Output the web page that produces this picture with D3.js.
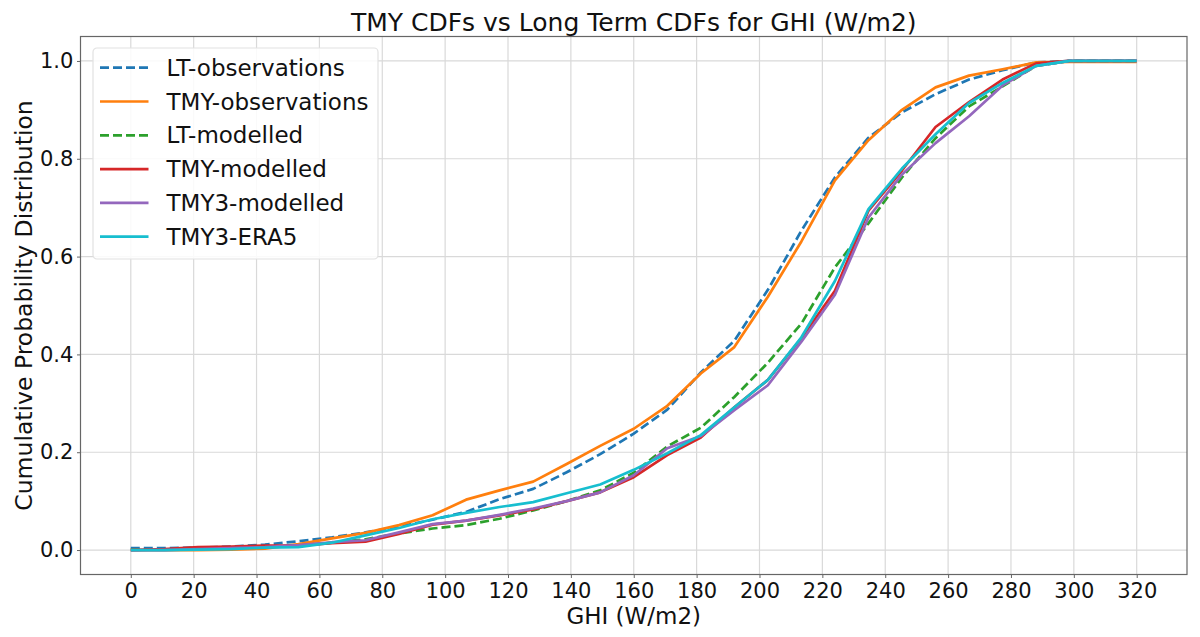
<!DOCTYPE html>
<html>
<head>
<meta charset="utf-8">
<script src="https://cdn.jsdelivr.net/npm/d3@7"></script>
<style>
    body { margin: 0; background: #fff; }
    text { font-family: "DejaVu Sans", sans-serif; fill: #111; }
</style>
</head>
<body>
<svg id="chart" width="1200" height="637"></svg>
<script>
// bin values along GHI (W/m2)
const ghi = [0, 10.67, 21.33, 32, 42.67, 53.33, 64, 74.67, 85.33, 96, 106.67,
    117.33, 128, 138.67, 149.33, 160, 170.67, 181.33, 192, 202.67, 213.33,
    224, 234.67, 245.33, 256, 266.67, 277.33, 288, 298.67, 309.33, 320]

const xTicks = [0, 20, 40, 60, 80, 100, 120, 140, 160, 180, 200, 220, 240, 260, 280, 300, 320]
const yTicks = [0, 0.2, 0.4, 0.6, 0.8, 1.0]

const ltObservations = [0.004, 0.004, 0.005, 0.007, 0.011, 0.018, 0.026, 0.036, 0.048, 0.062, 0.078,
    0.104, 0.125, 0.159, 0.196, 0.238, 0.287, 0.363, 0.428, 0.532, 0.653,
    0.762, 0.843, 0.895, 0.932, 0.962, 0.981, 0.997, 1.0, 1.0, 1.0]
const tmyObservations = [0, 0, 0, 0.001, 0.003, 0.012, 0.024, 0.035, 0.051, 0.071, 0.103,
    0.122, 0.14, 0.176, 0.213, 0.248, 0.295, 0.361, 0.415, 0.518, 0.631,
    0.756, 0.838, 0.9, 0.946, 0.97, 0.983, 0.997, 0.998, 0.998, 0.998]
const ltModelled = [0.001, 0.001, 0.002, 0.004, 0.006, 0.009, 0.015, 0.022, 0.034, 0.044, 0.051,
    0.064, 0.081, 0.1, 0.122, 0.158, 0.212, 0.25, 0.313, 0.383, 0.463,
    0.578, 0.668, 0.762, 0.842, 0.907, 0.948, 0.99, 1.0, 1.0, 1.0]
const tmyModelled = [0, 0.002, 0.006, 0.007, 0.009, 0.009, 0.014, 0.017, 0.033, 0.052, 0.06,
    0.071, 0.083, 0.1, 0.118, 0.149, 0.194, 0.23, 0.292, 0.348, 0.433,
    0.53, 0.694, 0.776, 0.865, 0.916, 0.962, 0.995, 1.0, 1.0, 1.0]
const tmy3Modelled = [0, 0, 0.002, 0.004, 0.006, 0.01, 0.016, 0.02, 0.036, 0.053, 0.06,
    0.072, 0.085, 0.1, 0.118, 0.153, 0.208, 0.233, 0.286, 0.337, 0.426,
    0.522, 0.68, 0.768, 0.832, 0.887, 0.95, 0.99, 1.0, 1.0, 1.0]
const tmy3Era5 = [0, 0, 0.001, 0.002, 0.005, 0.006, 0.015, 0.03, 0.045, 0.063, 0.076,
    0.088, 0.098, 0.116, 0.134, 0.164, 0.198, 0.235, 0.292, 0.348, 0.435,
    0.55, 0.697, 0.78, 0.85, 0.914, 0.955, 0.99, 1.0, 1.0, 1.0]

const seriesNames = ['LT-observations', 'TMY-observations', 'LT-modelled', 'TMY-modelled', 'TMY3-modelled', 'TMY3-ERA5']
const seriesValues = [ltObservations, tmyObservations, ltModelled, tmyModelled, tmy3Modelled, tmy3Era5]
const seriesColors = ['#1f77b4', '#ff7f0e', '#2ca02c', '#d62728', '#9467bd', '#17becf']
const seriesDashed = [true, false, true, false, false, false]

const svg = d3.select('#chart')
const margin = { left: 80.5, right: 13, top: 36.5, bottom: 62.5 }
const width = 1200 - margin.left - margin.right
const height = 637 - margin.top - margin.bottom

const x = d3.scaleLinear().domain([-16, 336]).range([0, width])
const y = d3.scaleLinear().domain([-0.05, 1.05]).range([height, 0])

const g = svg.append('g').attr('transform', `translate(${margin.left},${margin.top})`)

// сетка
g.append('g').selectAll('line').data(xTicks).join('line')
    .attr('x1', d => x(d)).attr('x2', d => x(d))
    .attr('y1', 0).attr('y2', height)
    .attr('stroke', '#d9d9d9').attr('stroke-width', 1.2)
g.append('g').selectAll('line').data(yTicks).join('line')
    .attr('x1', 0).attr('x2', width)
    .attr('y1', d => y(d)).attr('y2', d => y(d))
    .attr('stroke', '#d9d9d9').attr('stroke-width', 1.2)

// оси
const xAxis = g.append('g').attr('transform', `translate(0,${height})`)
    .call(d3.axisBottom(x).tickValues(xTicks).tickFormat(d3.format('d')).tickSize(3.5).tickPadding(5))
const yAxis = g.append('g')
    .call(d3.axisLeft(y).tickValues(yTicks).tickFormat(d3.format('.1f')).tickSize(3.5).tickPadding(3.7))

;[xAxis, yAxis].forEach(a => {
    a.select('.domain').remove()
    a.selectAll('.tick line').attr('stroke', '#666')
    a.selectAll('.tick text')
        .style('font-size', '21px')
        .style('font-family', '"DejaVu Sans", sans-serif')
        .attr('fill', '#111')
})

// рамка
g.append('rect').attr('width', width).attr('height', height)
    .attr('fill', 'none').attr('stroke', '#666').attr('stroke-width', 1.2)

// линии
const line = d3.line().x((d, i) => x(ghi[i])).y(d => y(d))
seriesValues.forEach((vals, k) => {
    g.append('path')
        .datum(vals)
        .attr('d', line)
        .attr('fill', 'none')
        .attr('stroke', seriesColors[k])
        .attr('stroke-width', 2.7)
        .attr('stroke-linejoin', 'round')
        .attr('stroke-dasharray', seriesDashed[k] ? '9,4' : null)
})

// подписи
svg.append('text')
    .attr('x', margin.left + width / 2).attr('y', 31)
    .attr('text-anchor', 'middle')
    .style('font-size', '25px')
    .text('TMY CDFs vs Long Term CDFs for GHI (W/m2)')
svg.append('text')
    .attr('x', margin.left + width / 2).attr('y', 624)
    .attr('text-anchor', 'middle')
    .style('font-size', '23px')
    .text('GHI (W/m2)')
svg.append('text')
    .attr('transform', `translate(32,${margin.top + height / 2}) rotate(-90)`)
    .attr('text-anchor', 'middle')
    .style('font-size', '23.5px')
    .text('Cumulative Probability Distribution')

// легенда
const legend = g.append('g').attr('transform', 'translate(12.5,11.5)')
legend.append('rect')
    .attr('width', 285).attr('height', 211).attr('rx', 4)
    .attr('fill', '#fff').attr('fill-opacity', 0.85)
    .attr('stroke', '#e2e2e2').attr('stroke-width', 1.2)
const entry = legend.selectAll('g.entry').data(seriesNames).join('g')
    .attr('class', 'entry')
    .attr('transform', (d, i) => `translate(0,${19.7 + i * 33.8})`)
entry.append('line')
    .attr('x1', 7).attr('x2', 55.5)
    .attr('stroke', (d, i) => seriesColors[i])
    .attr('stroke-width', 2.7)
    .attr('stroke-dasharray', (d, i) => seriesDashed[i] ? '9,4' : null)
entry.append('text')
    .attr('x', 73.5)
    .attr('dy', '0.35em')
    .style('font-size', '23px')
    .text(d => d)
</script>
</body>
</html>
